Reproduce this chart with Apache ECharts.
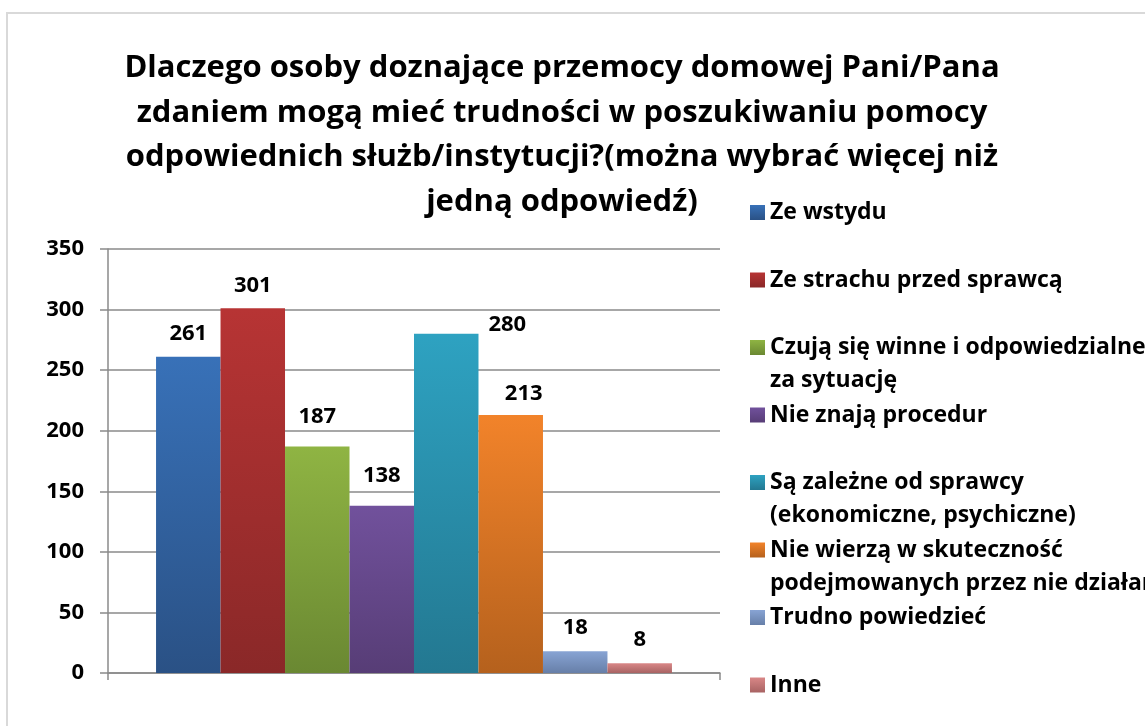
<!DOCTYPE html>
<html>
<head>
<meta charset="utf-8">
<title>Przemoc domowa - trudności w poszukiwaniu pomocy</title>
<script src="https://cdn.jsdelivr.net/npm/echarts@6/dist/echarts.min.js"></script>
<style>
  html, body { margin: 0; padding: 0; background: #fff; }
  #chart { width: 1145px; height: 726px; }
</style>
</head>
<body>
<div id="chart"></div>
<script>
// dane z wykresu
var categories = [''];
var seriesNames = [
  'Ze wstydu',
  'Ze strachu przed sprawcą',
  'Czują się winne i odpowiedzialne za sytuację',
  'Nie znają procedur',
  'Są zależne od sprawcy (ekonomiczne, psychiczne)',
  'Nie wierzą w skuteczność podejmowanych przez nie działań',
  'Trudno powiedzieć',
  'Inne'
];
var seriesValues = [261, 301, 187, 138, 280, 213, 18, 8];
// legenda - tekst z łamaniem linii
var legendLabels = [
  'Ze wstydu',
  'Ze strachu przed sprawcą',
  'Czują się winne i odpowiedzialne\nza sytuację',
  'Nie znają procedur',
  'Są zależne od sprawcy\n(ekonomiczne, psychiczne)',
  'Nie wierzą w skuteczność\npodejmowanych przez nie działań',
  'Trudno powiedzieć',
  'Inne'
];
var yTicks = [0, 50, 100, 150, 200, 250, 300, 350];

// kolory (góra / dół gradientu)
var colorTop = ['#3871b8', '#b73434', '#8fb443', '#71519c', '#2ea2c1', '#f2832a', '#88a4d4', '#d98787'];
var colorBottom = ['#2a5185', '#8a2828', '#6a8832', '#573d76', '#237891', '#b5611d', '#677fa8', '#a86363'];
// ręczne przesunięcia etykiet (jak w Excelu)
var labelOffsets = [[0, 0], [0, 0], [0, -7], [0, -7], [61, 14], [13, 2], [0, 0], [0, -1]];

var FONT = '"Open Sans"';
var chart = echarts.init(document.getElementById('chart'));

var series = [];
var legends = [];
for (var i = 0; i < seriesNames.length; i++) {
  var grad = new echarts.graphic.LinearGradient(0, 0, 0, 1, [
    { offset: 0, color: colorTop[i] },
    { offset: 1, color: colorBottom[i] }
  ]);
  series.push({
    name: seriesNames[i],
    type: 'bar',
    data: [seriesValues[i]],
    barGap: '0%',
    barCategoryGap: '15.7%',
    itemStyle: { color: grad },
    label: {
      show: true,
      position: 'top',
      distance: 12,
      offset: labelOffsets[i],
      color: '#000',
      fontFamily: FONT,
      fontWeight: 'bold',
      fontSize: 22
    },
    emphasis: { disabled: true }
  });

  // osobna legenda dla każdej pozycji, żeby zachować równe odstępy
  var txt = legendLabels[i].indexOf('\n') >= 0 ? '\n' + legendLabels[i] : legendLabels[i];
  var lines = txt.split('\n').length;
  legends.push({
    orient: 'vertical',
    left: 750,
    top: 212.5 + 67.5 * i - lines * 33 / 2,
    padding: 0,
    itemWidth: 15,
    itemHeight: 15,
    selectedMode: false,
    icon: 'rect',
    data: [seriesNames[i]],
    formatter: (function (t) { return function () { return t; }; })(txt),
    textStyle: {
      fontFamily: FONT,
      fontWeight: 'bold',
      fontSize: 23,
      lineHeight: 33,
      color: '#000'
    }
  });
}

var option = {
  animation: false,
  backgroundColor: '#fff',
  title: {
    text: 'Dlaczego osoby doznające przemocy domowej Pani/Pana\nzdaniem mogą mieć trudności w poszukiwaniu pomocy\nodpowiednich służb/instytucji?(można wybrać więcej niż\njedną odpowiedź)',
    left: 562,
    top: 46,
    padding: 0,
    textAlign: 'center',
    textStyle: {
      fontFamily: FONT,
      fontWeight: 'bold',
      fontSize: 31,
      lineHeight: 44.5,
      color: '#000'
    }
  },
  legend: legends,
  graphic: [{
    type: 'rect',
    shape: { x: 7, y: 13, width: 1300, height: 900 },
    style: { fill: 'none', stroke: '#d9d9d9', lineWidth: 2 },
    silent: true
  }],
  grid: { left: 108, right: 425, top: 249, bottom: 53 },
  xAxis: {
    type: 'category',
    data: categories,
    axisLine: { lineStyle: { color: '#8a8a8a', width: 1.5 } },
    axisTick: { show: true, length: 7, lineStyle: { color: '#8a8a8a', width: 1.5 } },
    axisLabel: { show: false }
  },
  yAxis: {
    type: 'value',
    min: yTicks[0],
    max: yTicks[yTicks.length - 1],
    interval: 50,
    axisLine: { show: true, lineStyle: { color: '#8a8a8a', width: 1.5 } },
    axisTick: { show: true, length: 8, lineStyle: { color: '#8a8a8a', width: 1.5 } },
    splitLine: { lineStyle: { color: '#8a8a8a', width: 1.5 } },
    axisLabel: {
      margin: 24,
      color: '#000',
      fontFamily: FONT,
      fontWeight: 'bold',
      fontSize: 22
    }
  },
  series: series
};

chart.setOption(option);
window.addEventListener('resize', function () { chart.resize(); });
</script>
</body>
</html>
